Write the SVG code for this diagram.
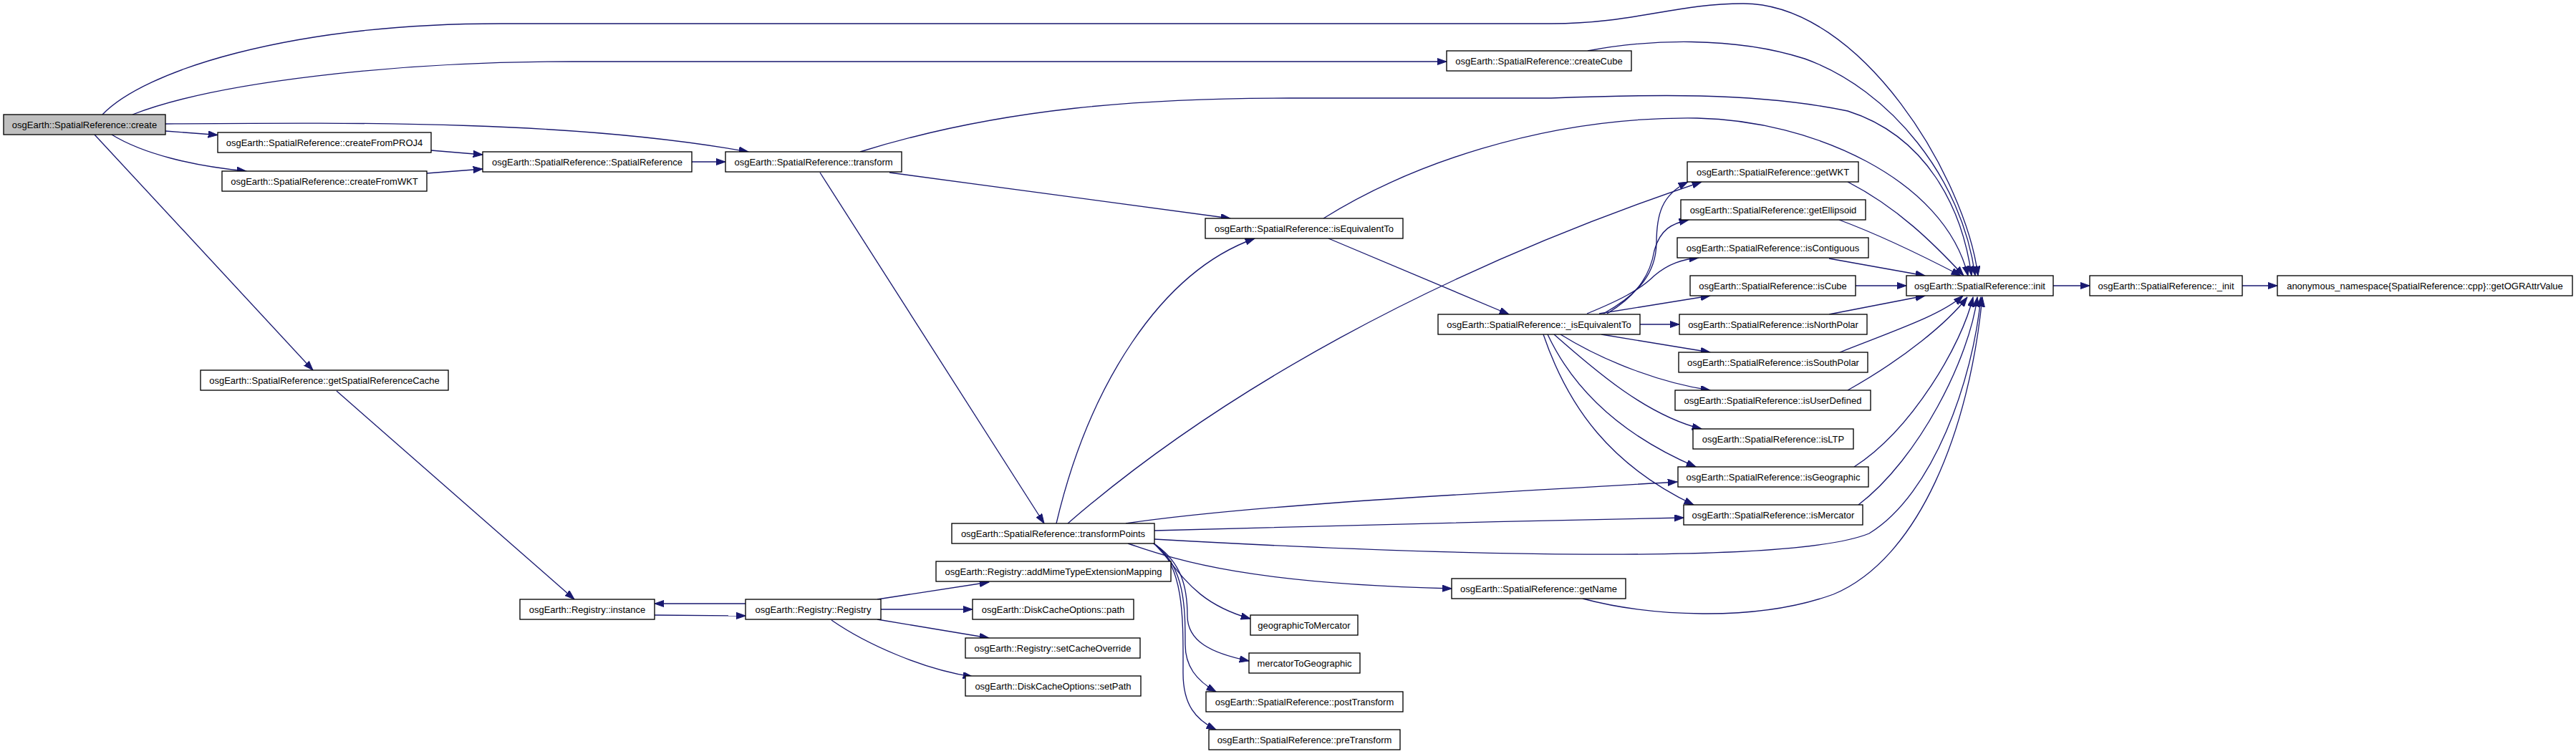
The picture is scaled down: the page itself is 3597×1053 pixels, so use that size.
<svg xmlns="http://www.w3.org/2000/svg" width="3597" height="1053" viewBox="0 0 3597 1053">
<defs>
<style>
.n rect{fill:#ffffff;stroke:#000000;stroke-width:1.33}
.n.root rect{fill:#bfbfbf}
.n text{font-family:"Liberation Sans",Arial,sans-serif;font-size:13px;fill:#000000;text-anchor:middle}
#edges path{fill:none;stroke:#191970;stroke-width:1.33;marker-end:url(#ah)}
</style>
<marker id="ah" markerUnits="userSpaceOnUse" markerWidth="14" markerHeight="10" refX="13.3" refY="4.67" orient="auto" viewBox="0 0 14 10">
<path d="M0,0 L13.3,4.67 L0,9.33 z" fill="#191970" stroke="#191970" stroke-width="1"/>
</marker>
</defs>
<rect x="0" y="0" width="3597" height="1053" fill="#ffffff"/>
<g id="edges">
<path d="M143,160 C200,100 400,33 700,33 L2166,33 C2280,33 2340,5 2434,5 C2600,5 2745,250 2762,385"/>
<path d="M185,160 C300,115 550,86 800,86 L2020,86"/>
<path d="M231,173 C500,171 800,168 1045,212"/>
<path d="M231,183 L304,188.5"/>
<path d="M156,188 C200,215 270,232 344,239"/>
<path d="M132,188 L437,517"/>
<path d="M602,210 L674,216"/>
<path d="M596,242 L674,236"/>
<path d="M966,226 L1013,226"/>
<path d="M1201,212 C1400,150 1600,137 1800,137 L2166,137 C2300,132 2450,128 2580,155 C2690,190 2740,290 2753,385"/>
<path d="M1242,241 L1718,305"/>
<path d="M1145,241 L1458,731"/>
<path d="M1848,305 C1960,235 2150,162 2370,165 C2530,168 2715,250 2748,385"/>
<path d="M1855,333 L2107,439"/>
<path d="M2217,71 C2300,55 2420,50 2520,82 C2640,125 2740,250 2758,385"/>
<path d="M470,546 L802,837"/>
<path d="M914,859 L1041,860"/>
<path d="M1041,843 L914,843"/>
<path d="M1225,837 L1381,813"/>
<path d="M1230,851 L1358,851"/>
<path d="M1225,865 L1381,891"/>
<path d="M1161,866 C1210,900 1290,935 1358,945"/>
<path d="M1475,731 C1520,540 1620,380 1752,333"/>
<path d="M1491,731 C1700,550 2000,380 2376,254"/>
<path d="M1612,753 C2000,775 2500,790 2610,745 C2700,690 2755,530 2766,415"/>
<path d="M1572,731 C1750,705 2050,690 2342,673"/>
<path d="M1612,741 C1900,733 2100,728 2351,723"/>
<path d="M1575,759 C1650,785 1750,815 2027,822"/>
<path d="M1610,758 C1645,790 1660,840 1746,864"/>
<path d="M1611,759 C1650,785 1658,820 1658,860 C1658,895 1690,912 1744,923"/>
<path d="M1611,759 C1655,790 1655,850 1655,900 C1655,930 1670,950 1698,966"/>
<path d="M1611,759 C1655,790 1652,870 1652,940 C1652,985 1670,1005 1698,1019"/>
<path d="M2210,836 C2300,860 2450,870 2560,830 C2680,780 2750,600 2768,415"/>
<path d="M2239,438 C2290,410 2312,380 2313,340 C2313,300 2320,272 2357,254"/>
<path d="M2244,438 C2290,410 2305,380 2310,350 C2318,320 2335,312 2358,307"/>
<path d="M2216,438 C2260,420 2290,405 2310,385 C2330,368 2350,362 2372,360"/>
<path d="M2233,438 L2388,413"/>
<path d="M2290,453 L2345,453"/>
<path d="M2236,467 L2388,492"/>
<path d="M2179,467 C2240,505 2320,535 2388,545"/>
<path d="M2170,467 C2230,520 2300,580 2376,599"/>
<path d="M2161,467 C2200,550 2270,610 2368,652"/>
<path d="M2155,467 C2190,570 2250,650 2365,705"/>
<path d="M2580,254 C2650,290 2700,340 2742,385"/>
<path d="M2568,307 C2630,330 2690,360 2738,385"/>
<path d="M2554,361 L2688,385"/>
<path d="M2591,399 L2662,399"/>
<path d="M2554,439 L2688,413"/>
<path d="M2569,492 C2650,460 2710,440 2741,413"/>
<path d="M2580,545 C2660,500 2720,450 2747,415"/>
<path d="M2589,652 C2670,600 2740,480 2755,415"/>
<path d="M2595,705 C2680,640 2750,500 2761,415"/>
<path d="M2867,399 L2918,399"/>
<path d="M3131,399 L3180,399"/>
</g>
<g id="n_create" class="n root"><rect x="5" y="160" width="226" height="28"/><text x="118" y="178.7">osgEarth::SpatialReference::create</text></g>
<g id="n_createFromPROJ4" class="n"><rect x="304" y="185" width="298" height="28"/><text x="453" y="203.7">osgEarth::SpatialReference::createFromPROJ4</text></g>
<g id="n_createFromWKT" class="n"><rect x="310" y="239" width="286" height="28"/><text x="453" y="257.7">osgEarth::SpatialReference::createFromWKT</text></g>
<g id="n_SpatialReference" class="n"><rect x="674" y="212" width="292" height="28"/><text x="820" y="230.7">osgEarth::SpatialReference::SpatialReference</text></g>
<g id="n_transform" class="n"><rect x="1013" y="212" width="246" height="28"/><text x="1136" y="230.7">osgEarth::SpatialReference::transform</text></g>
<g id="n_createCube" class="n"><rect x="2020" y="71" width="258" height="28"/><text x="2149" y="89.7">osgEarth::SpatialReference::createCube</text></g>
<g id="n_isEquivalentTo" class="n"><rect x="1683" y="305" width="276" height="28"/><text x="1821" y="323.7">osgEarth::SpatialReference::isEquivalentTo</text></g>
<g id="n_getSpatialReferenceCache" class="n"><rect x="280" y="517" width="346" height="28"/><text x="453" y="535.7">osgEarth::SpatialReference::getSpatialReferenceCache</text></g>
<g id="n_transformPoints" class="n"><rect x="1329" y="731" width="283" height="28"/><text x="1470.5" y="749.7">osgEarth::SpatialReference::transformPoints</text></g>
<g id="n_getWKT" class="n"><rect x="2356" y="226" width="239" height="28"/><text x="2475.5" y="244.7">osgEarth::SpatialReference::getWKT</text></g>
<g id="n_getEllipsoid" class="n"><rect x="2347" y="279" width="258" height="28"/><text x="2476" y="297.7">osgEarth::SpatialReference::getEllipsoid</text></g>
<g id="n_isContiguous" class="n"><rect x="2342" y="332" width="267" height="28"/><text x="2475.5" y="350.7">osgEarth::SpatialReference::isContiguous</text></g>
<g id="n_isCube" class="n"><rect x="2360" y="385" width="231" height="28"/><text x="2475.5" y="403.7">osgEarth::SpatialReference::isCube</text></g>
<g id="n_init" class="n"><rect x="2662" y="385" width="205" height="28"/><text x="2764.5" y="403.7">osgEarth::SpatialReference::init</text></g>
<g id="n__init" class="n"><rect x="2918" y="385" width="213" height="28"/><text x="3024.5" y="403.7">osgEarth::SpatialReference::_init</text></g>
<g id="n_getOGRAttrValue" class="n"><rect x="3180" y="385" width="412" height="28"/><text x="3386" y="403.7">anonymous_namespace{SpatialReference::cpp}::getOGRAttrValue</text></g>
<g id="n__isEquivalentTo" class="n"><rect x="2008" y="439" width="282" height="28"/><text x="2149" y="457.7">osgEarth::SpatialReference::_isEquivalentTo</text></g>
<g id="n_isNorthPolar" class="n"><rect x="2345" y="439" width="262" height="28"/><text x="2476" y="457.7">osgEarth::SpatialReference::isNorthPolar</text></g>
<g id="n_isSouthPolar" class="n"><rect x="2344" y="492" width="264" height="28"/><text x="2476" y="510.7">osgEarth::SpatialReference::isSouthPolar</text></g>
<g id="n_isUserDefined" class="n"><rect x="2339" y="545" width="273" height="28"/><text x="2475.5" y="563.7">osgEarth::SpatialReference::isUserDefined</text></g>
<g id="n_isLTP" class="n"><rect x="2364" y="599" width="224" height="28"/><text x="2476" y="617.7">osgEarth::SpatialReference::isLTP</text></g>
<g id="n_isGeographic" class="n"><rect x="2343" y="652" width="266" height="28"/><text x="2476" y="670.7">osgEarth::SpatialReference::isGeographic</text></g>
<g id="n_isMercator" class="n"><rect x="2351" y="705" width="250" height="28"/><text x="2476" y="723.7">osgEarth::SpatialReference::isMercator</text></g>
<g id="n_getName" class="n"><rect x="2027" y="808" width="243" height="28"/><text x="2148.5" y="826.7">osgEarth::SpatialReference::getName</text></g>
<g id="n_Registry_instance" class="n"><rect x="726" y="837" width="188" height="28"/><text x="820" y="855.7">osgEarth::Registry::instance</text></g>
<g id="n_Registry_Registry" class="n"><rect x="1041" y="837" width="189" height="28"/><text x="1135.5" y="855.7">osgEarth::Registry::Registry</text></g>
<g id="n_addMimeTypeExtensionMapping" class="n"><rect x="1307" y="784" width="328" height="28"/><text x="1471" y="802.7">osgEarth::Registry::addMimeTypeExtensionMapping</text></g>
<g id="n_DiskCacheOptions_path" class="n"><rect x="1358" y="837" width="225" height="28"/><text x="1470.5" y="855.7">osgEarth::DiskCacheOptions::path</text></g>
<g id="n_setCacheOverride" class="n"><rect x="1348" y="891" width="244" height="28"/><text x="1470" y="909.7">osgEarth::Registry::setCacheOverride</text></g>
<g id="n_setPath" class="n"><rect x="1348" y="944" width="245" height="28"/><text x="1470.5" y="962.7">osgEarth::DiskCacheOptions::setPath</text></g>
<g id="n_geographicToMercator" class="n"><rect x="1746" y="859" width="150" height="28"/><text x="1821" y="877.7">geographicToMercator</text></g>
<g id="n_mercatorToGeographic" class="n"><rect x="1744" y="912" width="155" height="28"/><text x="1821.5" y="930.7">mercatorToGeographic</text></g>
<g id="n_postTransform" class="n"><rect x="1684" y="966" width="275" height="28"/><text x="1821.5" y="984.7">osgEarth::SpatialReference::postTransform</text></g>
<g id="n_preTransform" class="n"><rect x="1688" y="1019" width="267" height="28"/><text x="1821.5" y="1037.7">osgEarth::SpatialReference::preTransform</text></g>
</svg>
